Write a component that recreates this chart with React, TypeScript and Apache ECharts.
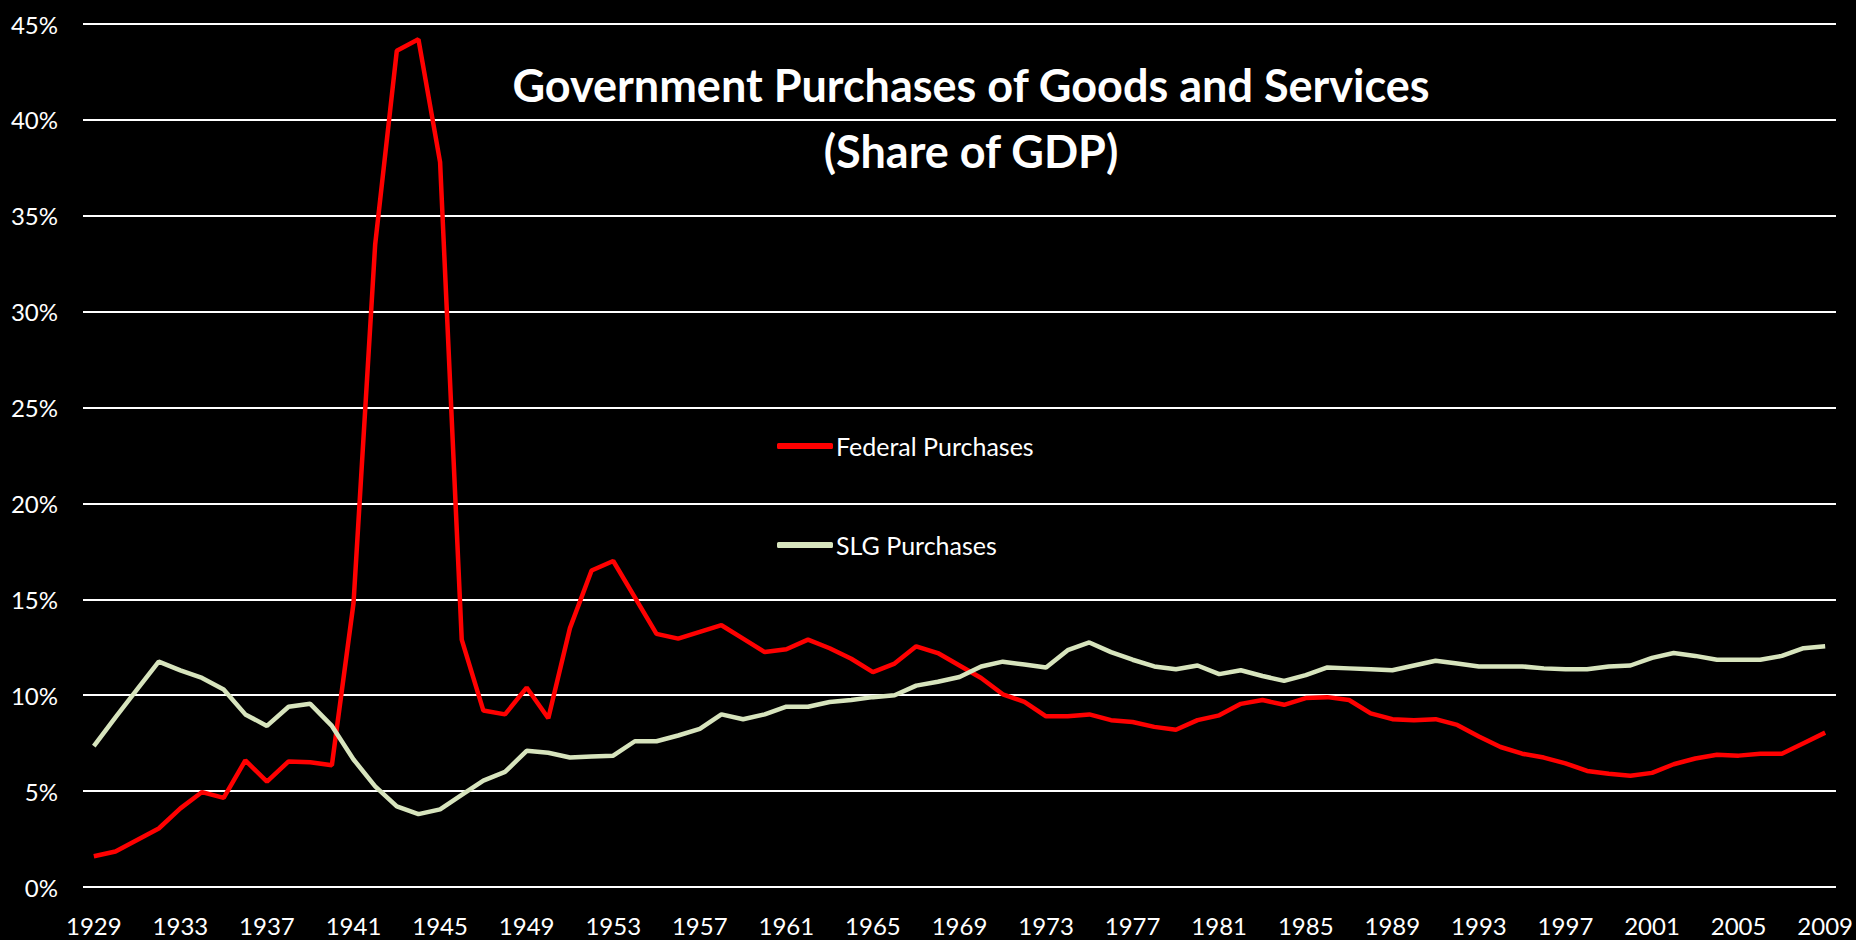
import React, { useEffect, useRef } from "react";
import * as echarts from "echarts";

const years: string[] = [];
for (let y = 1929; y <= 2009; y++) years.push(String(y));

const federal = [
  1.6, 1.85, 2.45, 3.05, 4.1, 4.95, 4.65, 6.6, 5.5, 6.55,
  6.5, 6.35, 14.8, 33.5, 43.6, 44.2, 37.8, 12.9, 9.2, 9.0,
  10.4, 8.8, 13.5, 16.5, 17.0, 15.1, 13.2, 12.95, 13.3, 13.65,
  12.95, 12.25, 12.4, 12.9, 12.45, 11.9, 11.2, 11.65, 12.55, 12.2,
  11.55, 10.9, 10.05, 9.65, 8.9, 8.9, 9.0, 8.7, 8.6, 8.35,
  8.2, 8.7, 8.95, 9.55, 9.75, 9.5, 9.85, 9.9, 9.75, 9.05,
  8.75, 8.7, 8.75, 8.45, 7.85, 7.3, 6.95, 6.75, 6.45, 6.05,
  5.9, 5.8, 5.95, 6.4, 6.7, 6.9, 6.85, 6.95, 6.95, 7.5,
  8.05,
];

const slg = [
  7.35, 8.85, 10.3, 11.75, 11.3, 10.9, 10.3, 9.0, 8.4, 9.4,
  9.55, 8.4, 6.65, 5.25, 4.2, 3.8, 4.05, 4.8, 5.55, 6.0,
  7.1, 7.0, 6.75, 6.8, 6.85, 7.6, 7.6, 7.9, 8.25, 9.0,
  8.75, 9.0, 9.4, 9.4, 9.65, 9.75, 9.9, 10.0, 10.5, 10.7,
  10.95, 11.5, 11.75, 11.6, 11.45, 12.35, 12.75, 12.25, 11.85, 11.5,
  11.35, 11.55, 11.1, 11.3, 11.0, 10.75, 11.05, 11.45, 11.4, 11.35,
  11.3, 11.55, 11.8, 11.65, 11.5, 11.5, 11.5, 11.4, 11.35, 11.35,
  11.5, 11.55, 11.95, 12.2, 12.05, 11.85, 11.85, 11.85, 12.05, 12.45,
  12.55,
];

const titleLine1 = "Government Purchases of Goods and Services";
const titleLine2 = "(Share of GDP)";
const seriesNames = ["Federal Purchases", "SLG Purchases"];

export default function App() {
  const ref = useRef<HTMLDivElement>(null);
  useEffect(() => {
    if (!ref.current) return;
    const chart = echarts.init(ref.current, null, { renderer: "svg" });
    chart.setOption({
      animation: false,
      backgroundColor: "#000000",
      title: {
        text: titleLine1 + "\n" + titleLine2,
        left: 966,
        top: 47,
        textAlign: "center",
        textStyle: {
          color: "#ffffff",
          fontFamily: "Lato",
          fontWeight: "bold",
          fontSize: 45,
          lineHeight: 66,
        },
      },
      legend: {
        orient: "vertical",
        left: 772,
        top: 426,
        itemGap: 69,
        itemWidth: 56,
        itemHeight: 6,
        icon: "roundRect",
        data: [
          { name: seriesNames[0], itemStyle: { color: "#ff0000" } },
          { name: seriesNames[1], itemStyle: { color: "#d7e4bd" } },
        ],
        textStyle: {
          color: "#ffffff",
          fontFamily: "Lato",
          fontSize: 25,
          lineHeight: 30,
          padding: [0, 0, 0, -2],
        },
      },
      grid: { left: 83, right: 20, top: 24, bottom: 53 },
      xAxis: {
        type: "category",
        data: years,
        boundaryGap: true,
        axisLine: { show: false },
        axisTick: { show: false },
        axisLabel: {
          interval: 3,
          color: "#ffffff",
          fontFamily: "Lato",
          fontSize: 24,
          margin: 26,
        },
      },
      yAxis: {
        type: "value",
        min: 0,
        max: 45,
        interval: 5,
        axisLine: { show: false },
        axisTick: { show: false },
        axisLabel: {
          color: "#ffffff",
          fontFamily: "Lato",
          fontSize: 24,
          margin: 25,
          formatter: "{value}%",
        },
        splitLine: { lineStyle: { color: "#ffffff", width: 2 } },
      },
      series: [
        {
          name: seriesNames[0],
          type: "line",
          data: federal,
          showSymbol: false,
          symbol: "none",
          lineStyle: { color: "#ff0000", width: 4.5 },
          itemStyle: { color: "#ff0000" },
        },
        {
          name: seriesNames[1],
          type: "line",
          data: slg,
          showSymbol: false,
          symbol: "none",
          lineStyle: { color: "#d7e4bd", width: 4.5 },
          itemStyle: { color: "#d7e4bd" },
        },
      ],
    });
    return () => chart.dispose();
  }, []);
  return (
    <div
      ref={ref}
      style={{ position: "fixed", left: 0, top: 0, width: 1856, height: 940, background: "#000" }}
    />
  );
}
